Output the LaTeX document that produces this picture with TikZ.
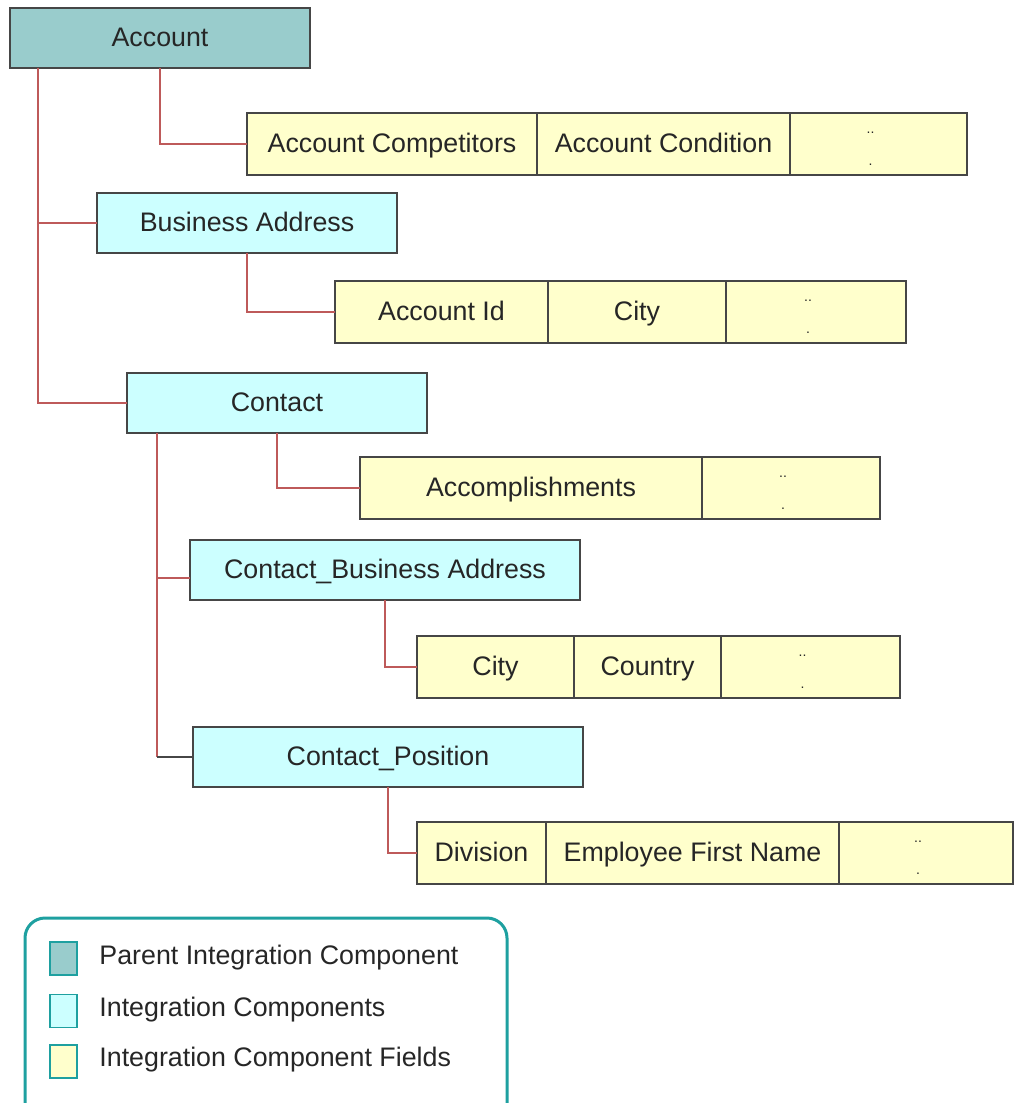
\documentclass[tikz,border=0pt]{standalone}
\usepackage{fontspec}
\setmainfont{Liberation Sans}
\usetikzlibrary{positioning}
\definecolor{parentfill}{RGB}{153,204,204}
\definecolor{compfill}{RGB}{204,255,255}
\definecolor{fieldfill}{RGB}{255,255,204}
\definecolor{linkred}{RGB}{190,90,90}
\definecolor{boxline}{RGB}{70,70,70}
\definecolor{legendline}{RGB}{30,160,160}
\tikzset{
  every node/.style={text=black!85,font=\fontsize{13.4}{15}\selectfont},
  compbox/.style={draw=boxline,line width=1pt,fill=compfill,minimum width=150pt,
    minimum height=30pt,inner sep=0pt,outer sep=0pt,anchor=north west,
    text height=9.6pt,text depth=1pt},
  parentbox/.style={compbox,fill=parentfill},
  fieldcell/.style={draw=boxline,line width=1pt,fill=fieldfill,minimum height=31pt,
    inner sep=0pt,outer sep=0pt,text height=9.6pt,text depth=1pt},
  dots/.style={inner sep=0pt,font=\fontsize{7}{8}\selectfont},
  link/.style={draw=linkred,line width=1pt},
  legsq/.style={draw=legendline,line width=0.8pt,minimum width=13.5pt,minimum height=16.5pt,inner sep=0pt},
  legtext/.style={anchor=west,inner sep=0pt}
}
\begin{document}
\begin{tikzpicture}[x=0.5pt,y=-0.5pt]
  \useasboundingbox (0,0) rectangle (1014,1103);
  % components
  \node[parentbox] (acc) at (10,8) {Account};
  \node[compbox] (ba) at (97,193) {Business Address};
  \node[compbox] (ct) at (127,373) {Contact};
  \node[compbox,minimum width=195pt] (cba) at (190,540) {Contact\_Business Address};
  \node[compbox,minimum width=195pt] (cp) at (193,727) {Contact\_Position};
  % fields of Account
  \node[fieldcell,minimum width=145pt,anchor=north west] (acf1) at (247,113) {Account Competitors};
  \node[fieldcell,minimum width=126.5pt,right=0pt of acf1] (acf2) {Account Condition};
  \node[fieldcell,minimum width=88.5pt,right=0pt of acf2] (acf3) {};
  \node[dots] (acd1) at ([xshift=-4pt,yshift=5.5pt]acf3.center) {..};
  \node[dots] (acd2) at ([xshift=-4pt,yshift=-10.5pt]acf3.center) {.};
  % fields of Business Address
  \node[fieldcell,minimum width=106.5pt,anchor=north west] (baf1) at (335,281) {Account Id};
  \node[fieldcell,minimum width=89pt,right=0pt of baf1] (baf2) {City};
  \node[fieldcell,minimum width=90pt,right=0pt of baf2] (baf3) {};
  \node[dots] (bad1) at ([xshift=-4pt,yshift=5.5pt]baf3.center) {..};
  \node[dots] (bad2) at ([xshift=-4pt,yshift=-10.5pt]baf3.center) {.};
  % fields of Contact
  \node[fieldcell,minimum width=171pt,anchor=north west] (ctf1) at (360,457) {Accomplishments};
  \node[fieldcell,minimum width=89pt,right=0pt of ctf1] (ctf2) {};
  \node[dots] (ctd1) at ([xshift=-4pt,yshift=5.5pt]ctf2.center) {..};
  \node[dots] (ctd2) at ([xshift=-4pt,yshift=-10.5pt]ctf2.center) {.};
  % fields of Contact_Business Address
  \node[fieldcell,minimum width=78.5pt,anchor=north west] (cbaf1) at (417,636) {City};
  \node[fieldcell,minimum width=73.5pt,right=0pt of cbaf1] (cbaf2) {Country};
  \node[fieldcell,minimum width=89.5pt,right=0pt of cbaf2] (cbaf3) {};
  \node[dots] (cbad1) at ([xshift=-4pt,yshift=5.5pt]cbaf3.center) {..};
  \node[dots] (cbad2) at ([xshift=-4pt,yshift=-10.5pt]cbaf3.center) {.};
  % fields of Contact_Position
  \node[fieldcell,minimum width=64.5pt,anchor=north west] (cpf1) at (417,822) {Division};
  \node[fieldcell,minimum width=146.5pt,right=0pt of cpf1] (cpf2) {Employee First Name};
  \node[fieldcell,minimum width=87pt,right=0pt of cpf2] (cpf3) {};
  \node[dots] (cpd1) at ([xshift=-4pt,yshift=5.5pt]cpf3.center) {..};
  \node[dots] (cpd2) at ([xshift=-4pt,yshift=-10.5pt]cpf3.center) {.};
  % links
  \draw[link] ([xshift=14pt]acc.south west) |- (ba.west);
  \draw[link] ([xshift=14pt]acc.south west) |- (ct.west);
  \draw[link] (acc.south) |- (acf1.west);
  \draw[link] (ba.south) |- (baf1.west);
  \draw[link] (ct.south) |- (ctf1.west);
  \draw[link] ([xshift=15pt]ct.south west) |- ([yshift=-4pt]cba.west);
  \coordinate (cpturn) at ([xshift=15pt]ct.south west |- cp.west);
  \draw[link] ([xshift=15pt]ct.south west) -- (cpturn);
  \draw[boxline,line width=1pt] (cpturn) -- (cp.west);
  \draw[link] (cba.south) |- (cbaf1.west);
  \draw[link] (cp.south) |- (cpf1.west);
  % legend
  \draw[legendline,line width=1.5pt,rounded corners=10pt] (25,918) rectangle (507,1125);
  \node[legsq,fill=parentfill] (lg1) at (63.5,958.5) {};
  \node[legsq,fill=compfill] (lg2) at (63.5,1011) {};
  \node[legsq,fill=fieldfill] (lg3) at (63.5,1061.5) {};
  \node[legtext] (lt1) at (99,958) {Parent Integration Component};
  \node[legtext] (lt2) at (99,1010) {Integration Components};
  \node[legtext] (lt3) at (99,1060) {Integration Component Fields};
\end{tikzpicture}
\end{document}
